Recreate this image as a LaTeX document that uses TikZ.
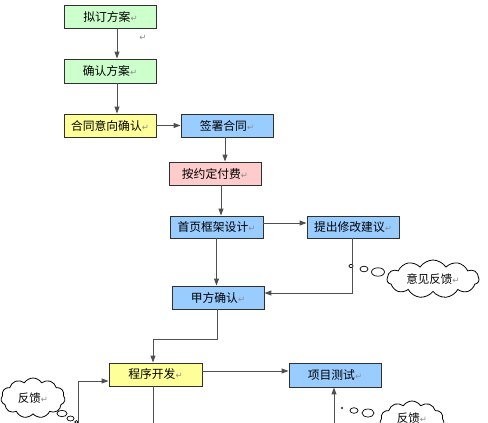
\documentclass[tikz,border=0pt]{standalone}
\usepackage{fontspec}
\newfontfamily\cjk{Noto Sans CJK SC}
\newfontfamily\dejavu{DejaVu Sans}
\usetikzlibrary{arrows.meta,shapes.symbols,calc}
\definecolor{cgreen}{HTML}{CCFFCC}
\definecolor{cyellow}{HTML}{FFFF99}
\definecolor{cblue}{HTML}{99CCFF}
\definecolor{cpink}{HTML}{FFCCCC}
\definecolor{cline}{HTML}{505050}
\definecolor{cborder}{HTML}{303030}
\newcommand\retmark{{\dejavu\fontsize{8.5}{9}\selectfont\color{black!45}\char"21B5}}
\tikzset{
  stepbox/.style={draw=cborder, line width=0.9pt, minimum width=92pt, minimum height=23pt,
    inner sep=0pt, font=\cjk\fontsize{11.8}{13}\selectfont},
  gbox/.style={stepbox, fill=cgreen},
  ybox/.style={stepbox, fill=cyellow},
  bbox/.style={stepbox, fill=cblue},
  pbox/.style={stepbox, fill=cpink},
  arr/.style={draw=cline, line width=1pt, -{Triangle[length=7pt,width=5pt]}},
  plain/.style={draw=cline, line width=1pt},
  cloudbox/.style={cloud, cloud puffs=11, cloud puff arc=115, cloud ignores aspect,
    draw=black, line width=0.8pt, fill=white, inner sep=0pt,
    font=\cjk\fontsize{11.5}{13}\selectfont},
  bubble/.style={draw=black, line width=0.7pt, fill=white}
}
\begin{document}
\begin{tikzpicture}[x=1pt,y=-1pt]
\useasboundingbox (0,0) rectangle (488,423);
\clip (0,0) rectangle (488,423);
\fill[white] (0,0) rectangle (488,423);

% boxes
\node[gbox] (n1) at (110.5,16.5) {拟订方案\retmark};
\node[gbox, minimum height=24pt] (n2) at (110,71) {确认方案\retmark};
\node[ybox] (n3) at (110,125.5) {合同意向确认\retmark};
\node[bbox] (n4) at (227,125.5) {签署合同\retmark};
\node[pbox] (n5) at (215,173.5) {按约定付费\retmark};
\node[bbox, minimum height=22pt, minimum width=93pt] (n6) at (216.5,227) {首页框架设计\retmark};
\node[bbox, minimum height=22pt] (n7) at (353,227) {提出修改建议\retmark};
\node[bbox] (n8) at (218,297.5) {甲方确认\retmark};
\node[ybox, minimum width=93pt] (n9) at (155.5,374.5) {程序开发\retmark};
\node[bbox, minimum height=24pt] (n10) at (335,375) {项目测试\retmark};

% stray paragraph mark
\node[inner sep=0pt] (pm) at (143,38) {\retmark};

% clouds
\node[cloudbox, minimum width=92pt, minimum height=38pt] (c1) at (433,279) {意见反馈\retmark};
\node[cloudbox, minimum width=64pt, minimum height=40pt] (c2) at (33,398) {反馈\retmark};
\node[cloudbox, minimum width=64pt, minimum height=40pt] (c3) at (412,421) {\raisebox{7pt}{反馈\retmark}};

% bubbles
\draw[bubble] (351,266) ellipse (2pt and 1.6pt);
\draw[bubble] (364,269) ellipse (4pt and 2.8pt);
\draw[bubble] (378,272) ellipse (6.5pt and 4.2pt);
\draw[bubble] (62,413.5) ellipse (5pt and 3.2pt);
\draw[bubble] (70.5,418.5) ellipse (3.5pt and 2.5pt);
\draw[bubble] (76.5,422) ellipse (1.8pt and 1.4pt);
\fill[black!70] (342,408) circle (1.4pt);
\draw[bubble] (354,410.5) ellipse (4pt and 2.8pt);
\draw[bubble] (368,413) ellipse (6pt and 4pt);

% bottom free ends
\coordinate (b1) at (334,423);
\coordinate (b2) at (153,423);
\coordinate (b3) at (78,423);

% connectors
\draw[arr] ([xshift=6.5pt]n1.south) -- ([xshift=6.5pt]n1.south |- n2.north);
\draw[arr] ([xshift=7pt]n2.south) -- ([xshift=7pt]n2.south |- n3.north);
\draw[arr] (n3.east) -- (n4.west);
\draw[arr] ([xshift=-2pt]n4.south) -- ([xshift=-2pt]n4.south |- n5.north);
\draw[arr] ([xshift=6pt]n5.south) -- ([xshift=6pt]n5.south |- n6.north);
\draw[arr] ([yshift=4pt]n6.east) -- ([yshift=4pt]n6.east -| n7.west);
\draw[arr] (n6.south) -- (n6.south |- n8.north);
\draw[arr] ([xshift=-1pt]n7.south) |- ([yshift=4.5pt]n8.east);
\draw[arr] ([xshift=-1pt]n8.south) -- ++(0,30) -| ([xshift=-2.5pt]n9.north);
\draw[arr] ([yshift=3.5pt]n9.east) -- ([yshift=3.5pt]n9.east -| n10.west);
\draw[arr] (b1) -- (b1 |- n10.south);
\draw[plain] (n9.south -| b2) -- (b2);
\draw[arr] (b3) |- ([yshift=-6.5pt]n9.west);
\end{tikzpicture}
\end{document}
